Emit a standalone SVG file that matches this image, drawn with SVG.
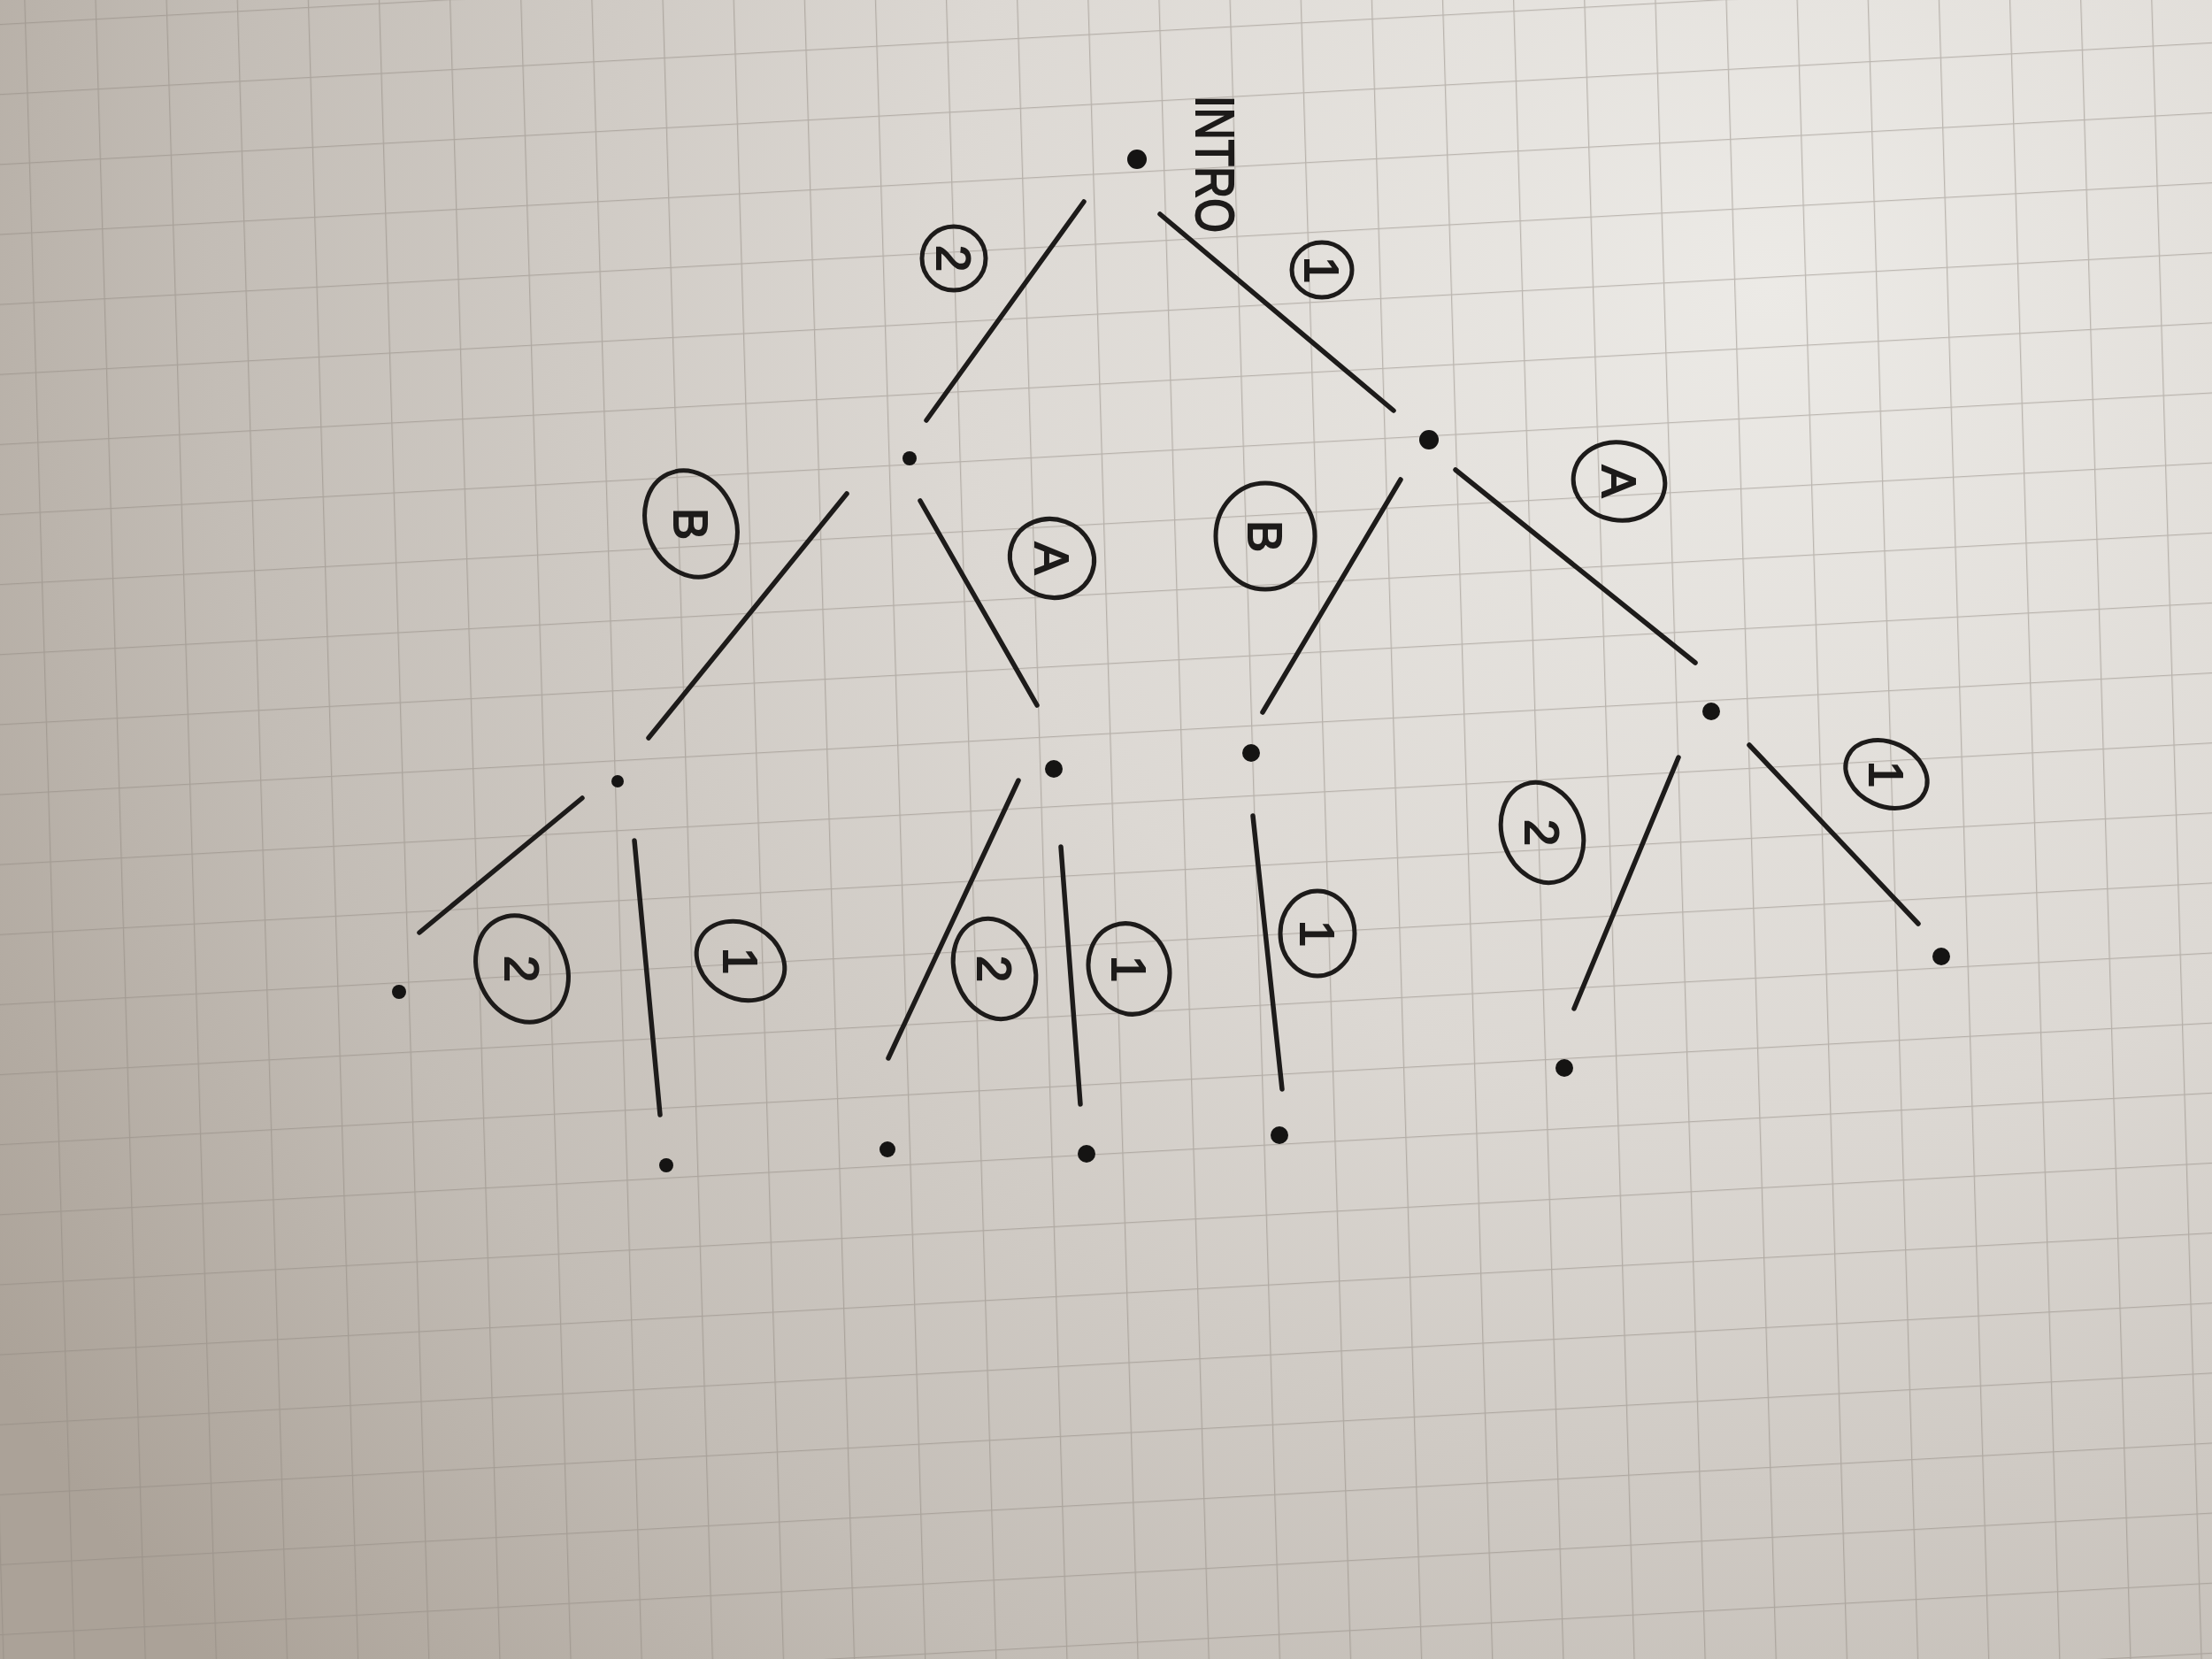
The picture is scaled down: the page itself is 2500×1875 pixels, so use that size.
<svg xmlns="http://www.w3.org/2000/svg" width="2500" height="1875" viewBox="0 0 2500 1875">
<defs>
<radialGradient id="paper" gradientUnits="userSpaceOnUse" cx="2000" cy="320" r="2350">
<stop offset="0" stop-color="#eceae6"/>
<stop offset="0.4" stop-color="#dcd8d3"/>
<stop offset="0.75" stop-color="#c3bdb6"/>
<stop offset="1" stop-color="#aba298"/>
</radialGradient>
<pattern id="grid" patternUnits="userSpaceOnUse" width="80" height="79" patternTransform="matrix(1,-0.055,0.03,1,28,25.5)">
<path d="M0 0V79M0 0H80" stroke="#8f8880" stroke-width="2.6" stroke-opacity="0.5" fill="none"/>
</pattern>
<style>
.edge{stroke:#1d1b1a;stroke-width:5.5;stroke-linecap:round;fill:none}
.ring{stroke:#1d1b1a;stroke-width:5;fill:none}
.lbl{font-family:"Liberation Sans",Arial,sans-serif;font-size:54px;fill:#1d1b1a;stroke:#1d1b1a;stroke-width:2;text-anchor:middle;dominant-baseline:central}
.dot{fill:#151413}
.title{font-family:"Liberation Sans",Arial,sans-serif;font-size:62px;fill:#1d1b1a;stroke:#1d1b1a;stroke-width:2}
</style>
</defs>
<rect width="2500" height="1875" fill="url(#paper)"/>
<rect x="-200" y="-200" width="2900" height="2300" fill="url(#grid)"/>

<g id="connectors">
<g id="e-root-L"><line class="edge" x1="1225" y1="228" x2="1047" y2="475"/><ellipse class="ring" cx="1078" cy="292" rx="36" ry="36"/><text class="lbl" x="1078" y="292" transform="rotate(90 1078 292)">2</text></g>
<g id="e-root-R"><line class="edge" x1="1311" y1="242" x2="1575" y2="464"/><ellipse class="ring" cx="1494" cy="305" rx="34" ry="31"/><text class="lbl" x="1494" y="305" transform="rotate(90 1494 305)">1</text></g>
<g id="e-L-LL"><line class="edge" x1="957" y1="558" x2="733" y2="834"/><ellipse class="ring" cx="781" cy="592" rx="50" ry="62" transform="rotate(-25 781 592)"/><text class="lbl" x="781" y="592" transform="rotate(90 781 592)">B</text></g>
<g id="e-L-LR"><line class="edge" x1="1040" y1="566" x2="1172" y2="797"/><ellipse class="ring" cx="1189" cy="631" rx="48" ry="44" transform="rotate(20 1189 631)"/><text class="lbl" x="1189" y="631" transform="rotate(90 1189 631)">A</text></g>
<g id="e-R-RL"><line class="edge" x1="1583" y1="542" x2="1427" y2="805"/><ellipse class="ring" cx="1430" cy="606" rx="56" ry="60"/><text class="lbl" x="1430" y="606" transform="rotate(90 1430 606)">B</text></g>
<g id="e-R-RR"><line class="edge" x1="1645" y1="531" x2="1916" y2="749"/><ellipse class="ring" cx="1830" cy="544" rx="52" ry="44" transform="rotate(10 1830 544)"/><text class="lbl" x="1830" y="544" transform="rotate(90 1830 544)">A</text></g>
<g id="e-LL-LLL"><line class="edge" x1="658" y1="902" x2="474" y2="1054"/><ellipse class="ring" cx="590" cy="1095" rx="50" ry="62" transform="rotate(-25 590 1095)"/><text class="lbl" x="590" y="1095" transform="rotate(90 590 1095)">2</text></g>
<g id="e-LL-LLR"><line class="edge" x1="717" y1="950" x2="746" y2="1260"/><ellipse class="ring" cx="837" cy="1086" rx="52" ry="42" transform="rotate(30 837 1086)"/><text class="lbl" x="837" y="1086" transform="rotate(90 837 1086)">1</text></g>
<g id="e-LR-LRL"><line class="edge" x1="1151" y1="882" x2="1004" y2="1196"/><ellipse class="ring" cx="1124" cy="1095" rx="45" ry="58" transform="rotate(-20 1124 1095)"/><text class="lbl" x="1124" y="1095" transform="rotate(90 1124 1095)">2</text></g>
<g id="e-LR-LRR"><line class="edge" x1="1199" y1="957" x2="1221" y2="1248"/><ellipse class="ring" cx="1276" cy="1095" rx="45" ry="52" transform="rotate(-20 1276 1095)"/><text class="lbl" x="1276" y="1095" transform="rotate(90 1276 1095)">1</text></g>
<g id="e-RL-RLL"><line class="edge" x1="1416" y1="922" x2="1449" y2="1231"/><ellipse class="ring" cx="1489" cy="1055" rx="42" ry="48"/><text class="lbl" x="1489" y="1055" transform="rotate(90 1489 1055)">1</text></g>
<g id="e-RR-RRL"><line class="edge" x1="1897" y1="856" x2="1779" y2="1140"/><ellipse class="ring" cx="1743" cy="941" rx="45" ry="58" transform="rotate(-20 1743 941)"/><text class="lbl" x="1743" y="941" transform="rotate(90 1743 941)">2</text></g>
<g id="e-RR-RRR"><line class="edge" x1="1977" y1="842" x2="2168" y2="1044"/><ellipse class="ring" cx="2132" cy="875" rx="48" ry="36" transform="rotate(25 2132 875)"/><text class="lbl" x="2132" y="875" transform="rotate(90 2132 875)">1</text></g>
</g>

<g id="node-root"><circle class="dot" cx="1285" cy="180" r="11"/><text class="title" transform="translate(1352,108) rotate(90)" textLength="155" lengthAdjust="spacingAndGlyphs">INTRO</text></g>
<g id="node-L"><circle class="dot" cx="1028" cy="518" r="8"/></g>
<g id="node-R"><circle class="dot" cx="1615" cy="497" r="11"/></g>
<g id="node-LL"><circle class="dot" cx="698" cy="883" r="7"/></g>
<g id="node-LR"><circle class="dot" cx="1191" cy="869" r="10"/></g>
<g id="node-RL"><circle class="dot" cx="1414" cy="851" r="10"/></g>
<g id="node-RR"><circle class="dot" cx="1934" cy="804" r="10"/></g>
<g id="node-LLL"><circle class="dot" cx="451" cy="1121" r="8"/></g>
<g id="node-LLR"><circle class="dot" cx="753" cy="1317" r="8"/></g>
<g id="node-LRL"><circle class="dot" cx="1003" cy="1299" r="9"/></g>
<g id="node-LRR"><circle class="dot" cx="1228" cy="1304" r="10"/></g>
<g id="node-RLL"><circle class="dot" cx="1446" cy="1283" r="10"/></g>
<g id="node-RRL"><circle class="dot" cx="1768" cy="1207" r="10"/></g>
<g id="node-RRR"><circle class="dot" cx="2194" cy="1081" r="10"/></g>
</svg>
